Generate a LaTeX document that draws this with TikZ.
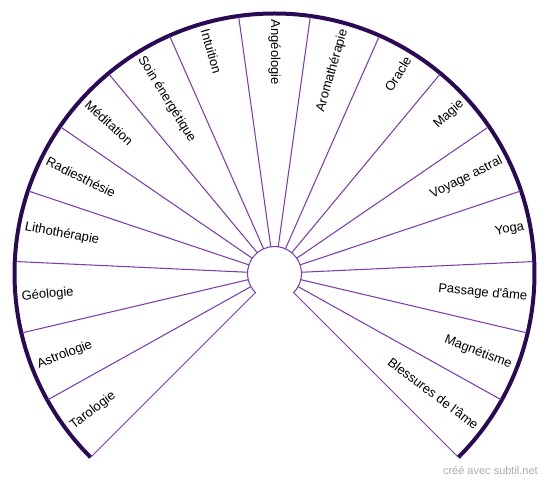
\documentclass[tikz,border=0pt]{standalone}
\usepackage{fontspec}
\setmainfont{Liberation Sans}[Ligatures=TeXOff]
\definecolor{spoke}{HTML}{7A3DAE}
\definecolor{rim}{HTML}{2B0A55}
\definecolor{mark}{HTML}{AAAAAA}
\begin{document}
\begin{tikzpicture}[x=1pt,y=1pt,
  spokeline/.style={draw=spoke,line width=1.05pt},
  rimline/.style={draw=rim,line width=4pt},
  lab/.style={font=\fontsize{13}{15}\selectfont,inner sep=0pt,text=black},
  wmark/.style={font=\fontsize{11}{13}\selectfont,inner sep=0pt,text=mark,anchor=east}]
\useasboundingbox (0,0) rectangle (550,482);
\coordinate (c) at (274.5,208.5);
\def\R{260}
\def\r{27}
\def\step{15.882352941}
% outer rim
\draw[rimline] ([shift={(225:\R)}]c) arc[start angle=225,end angle=-45,radius=\R];
% inner hub
\coordinate (hubL) at ([shift={(225:\r)}]c);
\coordinate (hubR) at ([shift={(-45:\r)}]c);
\coordinate (rimL) at ([shift={(225:\R)}]c);
\coordinate (rimR) at ([shift={(-45:\R)}]c);
\draw[spokeline] (rimL) -- (hubL) -- ([shift={(217:\r)}]c) arc[start angle=217,end angle=-37,radius=\r] -- (hubR) -- (rimR);
% inner spokes
\foreach \k in {1,...,16}{
  \pgfmathsetmacro{\a}{225-\step*\k}
  \coordinate (si\k) at ([shift={(\a:\r)}]c);
  \coordinate (so\k) at ([shift={(\a:\R-1)}]c);
  \draw[spokeline] (si\k) -- (so\k);
}
% labels
\foreach \t [count=\i from 0] in {Tarologie,Astrologie,Géologie,Lithothérapie,Radiesthésie,Méditation,Soin énergétique,Intuition,Angéologie,Aromathérapie,Oracle,Magie,Voyage astral,Yoga,Passage d'âme,Magnétisme,Blessures de l'âme}{
  \pgfmathsetmacro{\a}{225-\step*(\i+0.5)}
  \ifnum\i<9
    \node[lab,anchor=west,rotate=\a-180] (l\i) at ([shift={(\a:254)}]c) {\t};
  \else
    \node[lab,anchor=east,rotate=\a] (l\i) at ([shift={(\a:254)}]c) {\t};
  \fi
}
\node[wmark] (wm) at (538,11) {créé avec subtil.net};
\end{tikzpicture}
\end{document}
